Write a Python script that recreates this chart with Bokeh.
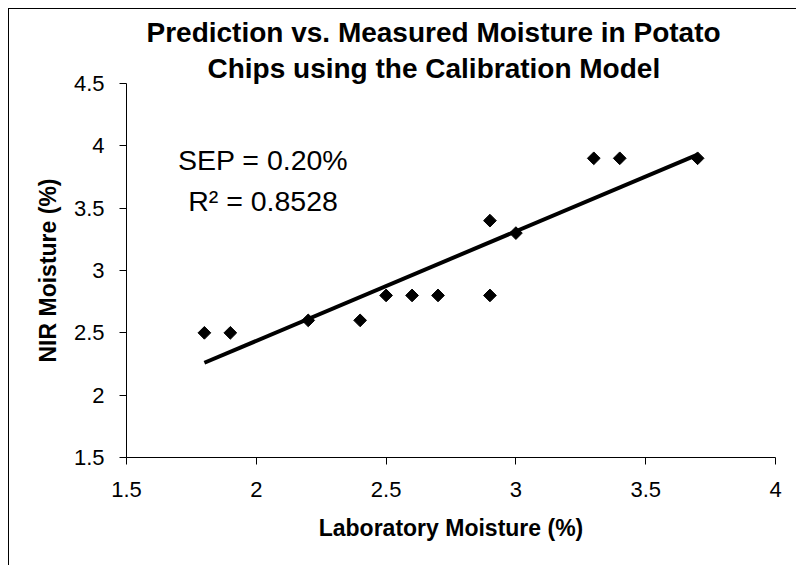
import numpy as np
from bokeh.plotting import figure
from bokeh.models import (Label, FixedTicker, ColumnDataSource, CustomJSTickFormatter,
                          Range1d, Title)
from bokeh.embed import file_html
from bokeh.resources import INLINE

# ---- data ----
lab_moisture = [1.8, 1.9, 2.2, 2.4, 2.5, 2.6, 2.7, 2.9, 2.9, 3.0, 3.3, 3.4, 3.7]
nir_moisture = [2.5, 2.5, 2.6, 2.6, 2.8, 2.8, 2.8, 2.8, 3.4, 3.3, 3.9, 3.9, 3.9]
trend_x = [1.8, 3.7]
trend_y = [2.26, 3.93]
x_ticks = [1.5, 2, 2.5, 3, 3.5, 4]
x_tick_labels = ["1.5", "2", "2.5", "3", "3.5", "4"]
y_ticks = [1.5, 2, 2.5, 3, 3.5, 4, 4.5]
y_tick_labels = ["1.5", "2", "2.5", "3", "3.5", "4", "4.5"]
title_lines = ["Prediction vs. Measured Moisture in Potato",
               "Chips using the Calibration Model"]
x_label = "Laboratory Moisture (%)"
y_label = "NIR Moisture (%)"
sep_text = "SEP = 0.20%"
r2_text = "R\u00b2 = 0.8528"

FONT = "Liberation Sans"

p = figure(width=788, height=557, output_backend="svg", toolbar_location=None,
           x_range=Range1d(1.5, 4), y_range=Range1d(1.5, 4.5),
           min_border_left=117, min_border_right=22,
           min_border_top=74, min_border_bottom=109)
p.styles = {"border-left": "1px solid black", "border-top": "1px solid black",
            "margin-left": "8px", "margin-top": "8px"}
p.background_fill_color = "white"
p.border_fill_color = "white"
p.outline_line_color = None
p.xgrid.visible = False
p.ygrid.visible = False

# two-line chart title: p.title is the outer (upper) line
p.title.text = title_lines[0]
p.title.align = "left"
p.title.offset = 20
p.title.standoff = 6
p.title.text_font = FONT
p.title.text_font_size = "28px"
p.title.text_font_style = "bold"
p.title.text_color = "black"
p.add_layout(Title(text=title_lines[1], align="left", offset=81, standoff=0,
                   text_font=FONT, text_font_size="28px", text_font_style="bold",
                   text_color="black"), "above")

def fmt(tvals, tlabels):
    return CustomJSTickFormatter(args=dict(tvals=tvals, tlabels=tlabels), code="""
        const i = tvals.findIndex(t => Math.abs(t - tick) < 1e-9);
        return i >= 0 ? tlabels[i] : '';
    """)

for ax, ticks, labels, lab, standoff, lstand in (
        (p.xaxis[0], x_ticks, x_tick_labels, x_label, 17, 15),
        (p.yaxis[0], y_ticks, y_tick_labels, y_label, 15, 10)):
    ax.ticker = FixedTicker(ticks=ticks)
    ax.formatter = fmt(ticks, labels)
    ax.minor_tick_line_color = None
    ax.major_tick_in = 0
    ax.major_tick_out = 7
    ax.axis_line_color = "black"
    ax.major_tick_line_color = "black"
    ax.major_label_text_font = FONT
    ax.major_label_text_font_size = "22px"
    ax.major_label_text_color = "black"
    ax.major_label_standoff = standoff
    ax.axis_label = lab
    ax.axis_label_text_font = FONT
    ax.axis_label_text_font_size = "23px"
    ax.axis_label_text_font_style = "bold"
    ax.axis_label_text_color = "black"
    ax.axis_label_standoff = lstand

p.yaxis[0].major_label_orientation = "horizontal"

src = ColumnDataSource(dict(x=lab_moisture, y=nir_moisture))
p.line(trend_x, trend_y, line_color="black", line_width=4)
p.scatter("x", "y", source=src, marker="square", angle=np.pi / 4, size=9,
          fill_color="black", line_color="black")

for txt, yv in ((sep_text, 3.89), (r2_text, 3.556)):
    p.add_layout(Label(x=2.026, y=yv, text=txt, text_align="center",
                       text_baseline="alphabetic", text_font=FONT,
                       text_font_size="28.5px", text_color="black"))

open("out.html", "w").write(file_html(p, INLINE))
